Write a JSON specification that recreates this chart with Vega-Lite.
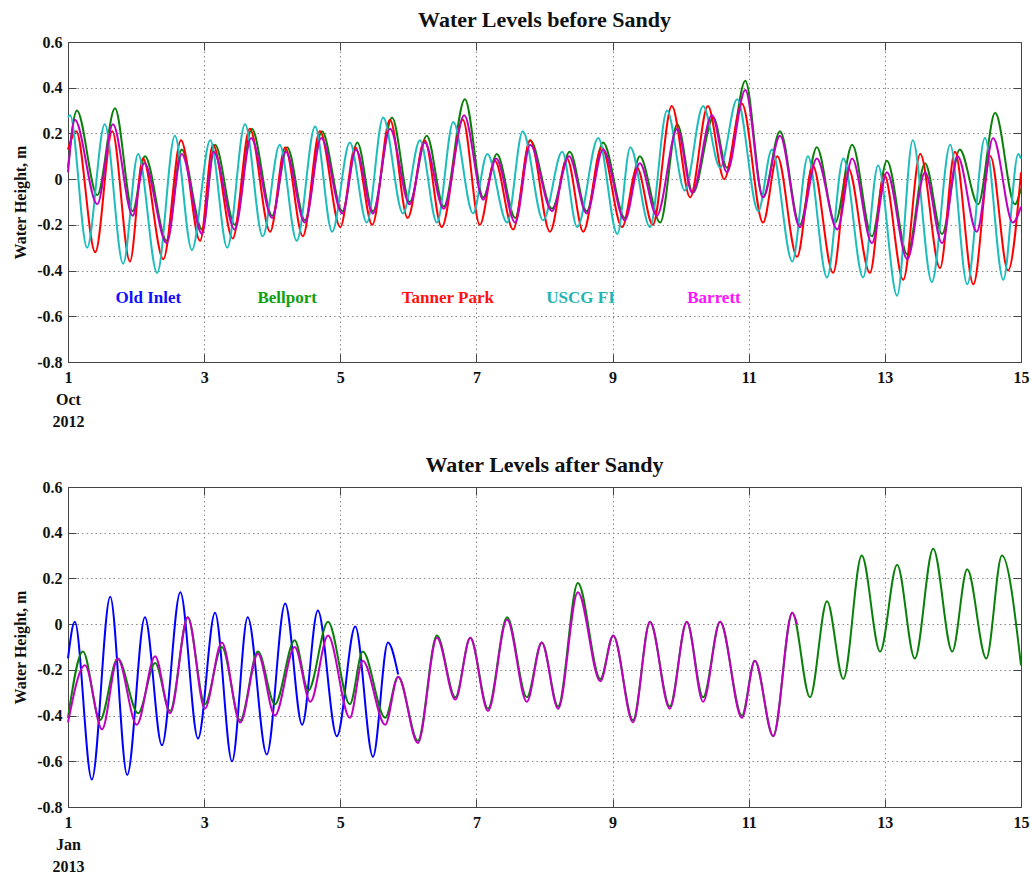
{
  "$schema": "https://vega.github.io/schema/vega-lite/v6.json",
  "background": "white",
  "padding": {"left": 12, "top": 8, "right": 5, "bottom": 5},
  "config": {
    "font": "Liberation Serif",
    "view": {"stroke": "#444", "strokeWidth": 1},
    "axis": {
      "labelFont": "Liberation Serif", "labelFontWeight": "bold", "labelFontSize": 16, "labelColor": "#111",
      "titleFont": "Liberation Serif", "titleFontWeight": "bold", "titleFontSize": 16, "titleColor": "#111",
      "domainColor": "#444", "tickColor": "#444", "gridColor": "#888", "gridDash": [1.5, 3], "gridOpacity": 1, "gridWidth": 1
    },
    "title": {"font": "Liberation Serif", "fontSize": 22, "fontWeight": "bold", "color": "#111", "offset": 2, "frame": "group", "anchor": "middle"}
  },
  "bounds": "flush",
  "spacing": 125,
  "datasets": {
    "labels": [
      {"name": "Old Inlet", "day": 2.18, "height": -0.52},
      {"name": "Bellport", "day": 4.22, "height": -0.52},
      {"name": "Tanner Park", "day": 6.58, "height": -0.52},
      {"name": "USCG FI", "day": 8.53, "height": -0.52},
      {"name": "Barrett", "day": 10.49, "height": -0.52}
    ],
    "before": [
      {"series": "Bellport", "day": 1.00, "height": 0.05},
      {"series": "Bellport", "day": 1.13, "height": 0.30},
      {"series": "Bellport", "day": 1.43, "height": -0.07},
      {"series": "Bellport", "day": 1.69, "height": 0.31},
      {"series": "Bellport", "day": 1.95, "height": -0.14},
      {"series": "Bellport", "day": 2.13, "height": 0.10},
      {"series": "Bellport", "day": 2.45, "height": -0.27},
      {"series": "Bellport", "day": 2.67, "height": 0.13},
      {"series": "Bellport", "day": 2.97, "height": -0.22},
      {"series": "Bellport", "day": 3.16, "height": 0.15},
      {"series": "Bellport", "day": 3.45, "height": -0.20},
      {"series": "Bellport", "day": 3.70, "height": 0.22},
      {"series": "Bellport", "day": 4.00, "height": -0.16},
      {"series": "Bellport", "day": 4.22, "height": 0.14},
      {"series": "Bellport", "day": 4.48, "height": -0.18},
      {"series": "Bellport", "day": 4.73, "height": 0.21},
      {"series": "Bellport", "day": 5.03, "height": -0.14},
      {"series": "Bellport", "day": 5.25, "height": 0.16},
      {"series": "Bellport", "day": 5.48, "height": -0.14},
      {"series": "Bellport", "day": 5.76, "height": 0.27},
      {"series": "Bellport", "day": 6.02, "height": -0.10},
      {"series": "Bellport", "day": 6.27, "height": 0.19},
      {"series": "Bellport", "day": 6.52, "height": -0.12},
      {"series": "Bellport", "day": 6.83, "height": 0.35},
      {"series": "Bellport", "day": 7.10, "height": -0.08},
      {"series": "Bellport", "day": 7.30, "height": 0.11},
      {"series": "Bellport", "day": 7.57, "height": -0.17},
      {"series": "Bellport", "day": 7.79, "height": 0.17},
      {"series": "Bellport", "day": 8.11, "height": -0.13},
      {"series": "Bellport", "day": 8.37, "height": 0.12},
      {"series": "Bellport", "day": 8.62, "height": -0.14},
      {"series": "Bellport", "day": 8.86, "height": 0.16},
      {"series": "Bellport", "day": 9.18, "height": -0.17},
      {"series": "Bellport", "day": 9.40, "height": 0.10},
      {"series": "Bellport", "day": 9.70, "height": -0.19},
      {"series": "Bellport", "day": 9.95, "height": 0.24},
      {"series": "Bellport", "day": 10.18, "height": -0.06},
      {"series": "Bellport", "day": 10.48, "height": 0.27},
      {"series": "Bellport", "day": 10.68, "height": 0.05},
      {"series": "Bellport", "day": 10.95, "height": 0.43},
      {"series": "Bellport", "day": 11.21, "height": -0.08},
      {"series": "Bellport", "day": 11.46, "height": 0.21},
      {"series": "Bellport", "day": 11.75, "height": -0.20},
      {"series": "Bellport", "day": 12.00, "height": 0.14},
      {"series": "Bellport", "day": 12.27, "height": -0.19},
      {"series": "Bellport", "day": 12.52, "height": 0.15},
      {"series": "Bellport", "day": 12.81, "height": -0.25},
      {"series": "Bellport", "day": 13.03, "height": 0.08},
      {"series": "Bellport", "day": 13.33, "height": -0.33},
      {"series": "Bellport", "day": 13.59, "height": 0.07},
      {"series": "Bellport", "day": 13.84, "height": -0.24},
      {"series": "Bellport", "day": 14.10, "height": 0.13},
      {"series": "Bellport", "day": 14.37, "height": -0.11},
      {"series": "Bellport", "day": 14.62, "height": 0.29},
      {"series": "Bellport", "day": 14.91, "height": -0.11},
      {"series": "Bellport", "day": 15.00, "height": -0.04},

      {"series": "Tanner Park", "day": 1.00, "height": 0.13},
      {"series": "Tanner Park", "day": 1.12, "height": 0.21},
      {"series": "Tanner Park", "day": 1.40, "height": -0.32},
      {"series": "Tanner Park", "day": 1.65, "height": 0.21},
      {"series": "Tanner Park", "day": 1.91, "height": -0.36},
      {"series": "Tanner Park", "day": 2.10, "height": 0.09},
      {"series": "Tanner Park", "day": 2.40, "height": -0.35},
      {"series": "Tanner Park", "day": 2.66, "height": 0.17},
      {"series": "Tanner Park", "day": 2.94, "height": -0.27},
      {"series": "Tanner Park", "day": 3.13, "height": 0.15},
      {"series": "Tanner Park", "day": 3.42, "height": -0.26},
      {"series": "Tanner Park", "day": 3.67, "height": 0.22},
      {"series": "Tanner Park", "day": 3.97, "height": -0.23},
      {"series": "Tanner Park", "day": 4.19, "height": 0.14},
      {"series": "Tanner Park", "day": 4.45, "height": -0.25},
      {"series": "Tanner Park", "day": 4.70, "height": 0.21},
      {"series": "Tanner Park", "day": 5.00, "height": -0.21},
      {"series": "Tanner Park", "day": 5.22, "height": 0.14},
      {"series": "Tanner Park", "day": 5.47, "height": -0.20},
      {"series": "Tanner Park", "day": 5.73, "height": 0.26},
      {"series": "Tanner Park", "day": 5.99, "height": -0.17},
      {"series": "Tanner Park", "day": 6.24, "height": 0.17},
      {"series": "Tanner Park", "day": 6.49, "height": -0.21},
      {"series": "Tanner Park", "day": 6.80, "height": 0.26},
      {"series": "Tanner Park", "day": 7.05, "height": -0.20},
      {"series": "Tanner Park", "day": 7.27, "height": 0.08},
      {"series": "Tanner Park", "day": 7.54, "height": -0.22},
      {"series": "Tanner Park", "day": 7.79, "height": 0.17},
      {"series": "Tanner Park", "day": 8.08, "height": -0.23},
      {"series": "Tanner Park", "day": 8.33, "height": 0.09},
      {"series": "Tanner Park", "day": 8.57, "height": -0.23},
      {"series": "Tanner Park", "day": 8.84, "height": 0.14},
      {"series": "Tanner Park", "day": 9.14, "height": -0.21},
      {"series": "Tanner Park", "day": 9.36, "height": 0.05},
      {"series": "Tanner Park", "day": 9.59, "height": -0.20},
      {"series": "Tanner Park", "day": 9.87, "height": 0.32},
      {"series": "Tanner Park", "day": 10.14, "height": -0.08},
      {"series": "Tanner Park", "day": 10.40, "height": 0.32},
      {"series": "Tanner Park", "day": 10.64, "height": 0.00},
      {"series": "Tanner Park", "day": 10.90, "height": 0.33},
      {"series": "Tanner Park", "day": 11.21, "height": -0.19},
      {"series": "Tanner Park", "day": 11.42, "height": 0.10},
      {"series": "Tanner Park", "day": 11.71, "height": -0.34},
      {"series": "Tanner Park", "day": 11.94, "height": 0.06},
      {"series": "Tanner Park", "day": 12.24, "height": -0.41},
      {"series": "Tanner Park", "day": 12.46, "height": 0.05},
      {"series": "Tanner Park", "day": 12.78, "height": -0.41},
      {"series": "Tanner Park", "day": 12.99, "height": 0.02},
      {"series": "Tanner Park", "day": 13.27, "height": -0.44},
      {"series": "Tanner Park", "day": 13.52, "height": 0.11},
      {"series": "Tanner Park", "day": 13.81, "height": -0.39},
      {"series": "Tanner Park", "day": 14.03, "height": 0.12},
      {"series": "Tanner Park", "day": 14.30, "height": -0.46},
      {"series": "Tanner Park", "day": 14.55, "height": 0.10},
      {"series": "Tanner Park", "day": 14.81, "height": -0.40},
      {"series": "Tanner Park", "day": 15.00, "height": 0.03},

      {"series": "USCG FI", "day": 1.00, "height": 0.27},
      {"series": "USCG FI", "day": 1.03, "height": 0.28},
      {"series": "USCG FI", "day": 1.28, "height": -0.30},
      {"series": "USCG FI", "day": 1.54, "height": 0.24},
      {"series": "USCG FI", "day": 1.81, "height": -0.37},
      {"series": "USCG FI", "day": 2.03, "height": 0.11},
      {"series": "USCG FI", "day": 2.31, "height": -0.41},
      {"series": "USCG FI", "day": 2.57, "height": 0.19},
      {"series": "USCG FI", "day": 2.82, "height": -0.31},
      {"series": "USCG FI", "day": 3.09, "height": 0.17},
      {"series": "USCG FI", "day": 3.34, "height": -0.30},
      {"series": "USCG FI", "day": 3.60, "height": 0.24},
      {"series": "USCG FI", "day": 3.86, "height": -0.25},
      {"series": "USCG FI", "day": 4.11, "height": 0.15},
      {"series": "USCG FI", "day": 4.36, "height": -0.27},
      {"series": "USCG FI", "day": 4.63, "height": 0.23},
      {"series": "USCG FI", "day": 4.88, "height": -0.23},
      {"series": "USCG FI", "day": 5.14, "height": 0.16},
      {"series": "USCG FI", "day": 5.39, "height": -0.19},
      {"series": "USCG FI", "day": 5.63, "height": 0.27},
      {"series": "USCG FI", "day": 5.92, "height": -0.15},
      {"series": "USCG FI", "day": 6.17, "height": 0.17},
      {"series": "USCG FI", "day": 6.42, "height": -0.19},
      {"series": "USCG FI", "day": 6.66, "height": 0.25},
      {"series": "USCG FI", "day": 6.95, "height": -0.15},
      {"series": "USCG FI", "day": 7.16, "height": 0.11},
      {"series": "USCG FI", "day": 7.45, "height": -0.19},
      {"series": "USCG FI", "day": 7.68, "height": 0.21},
      {"series": "USCG FI", "day": 7.98, "height": -0.18},
      {"series": "USCG FI", "day": 8.26, "height": 0.12},
      {"series": "USCG FI", "day": 8.48, "height": -0.21},
      {"series": "USCG FI", "day": 8.79, "height": 0.18},
      {"series": "USCG FI", "day": 9.07, "height": -0.24},
      {"series": "USCG FI", "day": 9.26, "height": 0.14},
      {"series": "USCG FI", "day": 9.55, "height": -0.21},
      {"series": "USCG FI", "day": 9.80, "height": 0.30},
      {"series": "USCG FI", "day": 10.06, "height": -0.05},
      {"series": "USCG FI", "day": 10.33, "height": 0.32},
      {"series": "USCG FI", "day": 10.58, "height": 0.05},
      {"series": "USCG FI", "day": 10.83, "height": 0.35},
      {"series": "USCG FI", "day": 11.14, "height": -0.14},
      {"series": "USCG FI", "day": 11.34, "height": 0.13},
      {"series": "USCG FI", "day": 11.64, "height": -0.36},
      {"series": "USCG FI", "day": 11.87, "height": 0.10},
      {"series": "USCG FI", "day": 12.15, "height": -0.43},
      {"series": "USCG FI", "day": 12.39, "height": 0.09},
      {"series": "USCG FI", "day": 12.68, "height": -0.43},
      {"series": "USCG FI", "day": 12.90, "height": 0.06},
      {"series": "USCG FI", "day": 13.18, "height": -0.51},
      {"series": "USCG FI", "day": 13.41, "height": 0.17},
      {"series": "USCG FI", "day": 13.69, "height": -0.45},
      {"series": "USCG FI", "day": 13.96, "height": 0.15},
      {"series": "USCG FI", "day": 14.21, "height": -0.46},
      {"series": "USCG FI", "day": 14.47, "height": 0.18},
      {"series": "USCG FI", "day": 14.74, "height": -0.44},
      {"series": "USCG FI", "day": 14.96, "height": 0.11},
      {"series": "USCG FI", "day": 15.00, "height": 0.09},

      {"series": "Barrett", "day": 1.00, "height": 0.03},
      {"series": "Barrett", "day": 1.10, "height": 0.26},
      {"series": "Barrett", "day": 1.43, "height": -0.11},
      {"series": "Barrett", "day": 1.66, "height": 0.24},
      {"series": "Barrett", "day": 1.95, "height": -0.16},
      {"series": "Barrett", "day": 2.12, "height": 0.07},
      {"series": "Barrett", "day": 2.45, "height": -0.28},
      {"series": "Barrett", "day": 2.67, "height": 0.11},
      {"series": "Barrett", "day": 2.97, "height": -0.24},
      {"series": "Barrett", "day": 3.14, "height": 0.12},
      {"series": "Barrett", "day": 3.45, "height": -0.22},
      {"series": "Barrett", "day": 3.69, "height": 0.18},
      {"series": "Barrett", "day": 4.00, "height": -0.17},
      {"series": "Barrett", "day": 4.20, "height": 0.12},
      {"series": "Barrett", "day": 4.48, "height": -0.19},
      {"series": "Barrett", "day": 4.72, "height": 0.18},
      {"series": "Barrett", "day": 5.03, "height": -0.15},
      {"series": "Barrett", "day": 5.23, "height": 0.13},
      {"series": "Barrett", "day": 5.48, "height": -0.15},
      {"series": "Barrett", "day": 5.73, "height": 0.22},
      {"series": "Barrett", "day": 6.02, "height": -0.11},
      {"series": "Barrett", "day": 6.24, "height": 0.16},
      {"series": "Barrett", "day": 6.52, "height": -0.13},
      {"series": "Barrett", "day": 6.82, "height": 0.28},
      {"series": "Barrett", "day": 7.10, "height": -0.09},
      {"series": "Barrett", "day": 7.29, "height": 0.09},
      {"series": "Barrett", "day": 7.57, "height": -0.19},
      {"series": "Barrett", "day": 7.79, "height": 0.15},
      {"series": "Barrett", "day": 8.11, "height": -0.14},
      {"series": "Barrett", "day": 8.36, "height": 0.10},
      {"series": "Barrett", "day": 8.62, "height": -0.15},
      {"series": "Barrett", "day": 8.86, "height": 0.13},
      {"series": "Barrett", "day": 9.18, "height": -0.18},
      {"series": "Barrett", "day": 9.40, "height": 0.07},
      {"series": "Barrett", "day": 9.65, "height": -0.16},
      {"series": "Barrett", "day": 9.95, "height": 0.22},
      {"series": "Barrett", "day": 10.17, "height": -0.06},
      {"series": "Barrett", "day": 10.46, "height": 0.28},
      {"series": "Barrett", "day": 10.68, "height": 0.03},
      {"series": "Barrett", "day": 10.95, "height": 0.39},
      {"series": "Barrett", "day": 11.21, "height": -0.08},
      {"series": "Barrett", "day": 11.46, "height": 0.19},
      {"series": "Barrett", "day": 11.75, "height": -0.21},
      {"series": "Barrett", "day": 12.00, "height": 0.09},
      {"series": "Barrett", "day": 12.30, "height": -0.22},
      {"series": "Barrett", "day": 12.52, "height": 0.09},
      {"series": "Barrett", "day": 12.81, "height": -0.28},
      {"series": "Barrett", "day": 13.03, "height": 0.03},
      {"series": "Barrett", "day": 13.33, "height": -0.35},
      {"series": "Barrett", "day": 13.59, "height": 0.03},
      {"series": "Barrett", "day": 13.84, "height": -0.28},
      {"series": "Barrett", "day": 14.07, "height": 0.10},
      {"series": "Barrett", "day": 14.35, "height": -0.23},
      {"series": "Barrett", "day": 14.59, "height": 0.18},
      {"series": "Barrett", "day": 14.88, "height": -0.19},
      {"series": "Barrett", "day": 15.00, "height": -0.12}
    ],
    "after": [
      {"series": "Old Inlet", "day": 1.00, "height": -0.15},
      {"series": "Old Inlet", "day": 1.10, "height": 0.01},
      {"series": "Old Inlet", "day": 1.35, "height": -0.68},
      {"series": "Old Inlet", "day": 1.62, "height": 0.12},
      {"series": "Old Inlet", "day": 1.87, "height": -0.66},
      {"series": "Old Inlet", "day": 2.13, "height": 0.03},
      {"series": "Old Inlet", "day": 2.38, "height": -0.53},
      {"series": "Old Inlet", "day": 2.65, "height": 0.14},
      {"series": "Old Inlet", "day": 2.91, "height": -0.50},
      {"series": "Old Inlet", "day": 3.16, "height": 0.05},
      {"series": "Old Inlet", "day": 3.41, "height": -0.60},
      {"series": "Old Inlet", "day": 3.64, "height": 0.03},
      {"series": "Old Inlet", "day": 3.92, "height": -0.57},
      {"series": "Old Inlet", "day": 4.19, "height": 0.09},
      {"series": "Old Inlet", "day": 4.44, "height": -0.44},
      {"series": "Old Inlet", "day": 4.67, "height": 0.06},
      {"series": "Old Inlet", "day": 4.95, "height": -0.49},
      {"series": "Old Inlet", "day": 5.22, "height": -0.01},
      {"series": "Old Inlet", "day": 5.48, "height": -0.58},
      {"series": "Old Inlet", "day": 5.70, "height": -0.08},
      {"series": "Old Inlet", "day": 5.85, "height": -0.22},

      {"series": "Bellport", "day": 1.00, "height": -0.41},
      {"series": "Bellport", "day": 1.22, "height": -0.12},
      {"series": "Bellport", "day": 1.47, "height": -0.42},
      {"series": "Bellport", "day": 1.73, "height": -0.15},
      {"series": "Bellport", "day": 2.03, "height": -0.39},
      {"series": "Bellport", "day": 2.28, "height": -0.17},
      {"series": "Bellport", "day": 2.50, "height": -0.38},
      {"series": "Bellport", "day": 2.76, "height": 0.03},
      {"series": "Bellport", "day": 3.01, "height": -0.35},
      {"series": "Bellport", "day": 3.26, "height": -0.10},
      {"series": "Bellport", "day": 3.53, "height": -0.42},
      {"series": "Bellport", "day": 3.79, "height": -0.12},
      {"series": "Bellport", "day": 4.04, "height": -0.35},
      {"series": "Bellport", "day": 4.33, "height": -0.07},
      {"series": "Bellport", "day": 4.53, "height": -0.29},
      {"series": "Bellport", "day": 4.82, "height": 0.01},
      {"series": "Bellport", "day": 5.14, "height": -0.35},
      {"series": "Bellport", "day": 5.33, "height": -0.12},
      {"series": "Bellport", "day": 5.66, "height": -0.41},
      {"series": "Bellport", "day": 5.85, "height": -0.23},
      {"series": "Bellport", "day": 6.14, "height": -0.51},
      {"series": "Bellport", "day": 6.42, "height": -0.05},
      {"series": "Bellport", "day": 6.69, "height": -0.32},
      {"series": "Bellport", "day": 6.91, "height": -0.06},
      {"series": "Bellport", "day": 7.17, "height": -0.37},
      {"series": "Bellport", "day": 7.45, "height": 0.03},
      {"series": "Bellport", "day": 7.74, "height": -0.32},
      {"series": "Bellport", "day": 7.96, "height": -0.08},
      {"series": "Bellport", "day": 8.20, "height": -0.36},
      {"series": "Bellport", "day": 8.49, "height": 0.18},
      {"series": "Bellport", "day": 8.82, "height": -0.24},
      {"series": "Bellport", "day": 9.01, "height": -0.05},
      {"series": "Bellport", "day": 9.30, "height": -0.42},
      {"series": "Bellport", "day": 9.55, "height": 0.01},
      {"series": "Bellport", "day": 9.84, "height": -0.36},
      {"series": "Bellport", "day": 10.09, "height": 0.01},
      {"series": "Bellport", "day": 10.33, "height": -0.32},
      {"series": "Bellport", "day": 10.58, "height": 0.01},
      {"series": "Bellport", "day": 10.90, "height": -0.40},
      {"series": "Bellport", "day": 11.09, "height": -0.16},
      {"series": "Bellport", "day": 11.36, "height": -0.49},
      {"series": "Bellport", "day": 11.64, "height": 0.05},
      {"series": "Bellport", "day": 11.90, "height": -0.32},
      {"series": "Bellport", "day": 12.15, "height": 0.10},
      {"series": "Bellport", "day": 12.39, "height": -0.24},
      {"series": "Bellport", "day": 12.66, "height": 0.30},
      {"series": "Bellport", "day": 12.93, "height": -0.12},
      {"series": "Bellport", "day": 13.18, "height": 0.26},
      {"series": "Bellport", "day": 13.44, "height": -0.15},
      {"series": "Bellport", "day": 13.71, "height": 0.33},
      {"series": "Bellport", "day": 13.99, "height": -0.12},
      {"series": "Bellport", "day": 14.21, "height": 0.24},
      {"series": "Bellport", "day": 14.49, "height": -0.15},
      {"series": "Bellport", "day": 14.72, "height": 0.30},
      {"series": "Bellport", "day": 15.00, "height": -0.18},

      {"series": "Barrett", "day": 1.00, "height": -0.43},
      {"series": "Barrett", "day": 1.25, "height": -0.18},
      {"series": "Barrett", "day": 1.50, "height": -0.46},
      {"series": "Barrett", "day": 1.73, "height": -0.15},
      {"series": "Barrett", "day": 2.01, "height": -0.44},
      {"series": "Barrett", "day": 2.28, "height": -0.14},
      {"series": "Barrett", "day": 2.50, "height": -0.39},
      {"series": "Barrett", "day": 2.76, "height": 0.03},
      {"series": "Barrett", "day": 3.01, "height": -0.37},
      {"series": "Barrett", "day": 3.26, "height": -0.08},
      {"series": "Barrett", "day": 3.53, "height": -0.43},
      {"series": "Barrett", "day": 3.79, "height": -0.13},
      {"series": "Barrett", "day": 4.04, "height": -0.40},
      {"series": "Barrett", "day": 4.33, "height": -0.10},
      {"series": "Barrett", "day": 4.56, "height": -0.34},
      {"series": "Barrett", "day": 4.82, "height": -0.05},
      {"series": "Barrett", "day": 5.14, "height": -0.41},
      {"series": "Barrett", "day": 5.33, "height": -0.16},
      {"series": "Barrett", "day": 5.66, "height": -0.44},
      {"series": "Barrett", "day": 5.85, "height": -0.23},
      {"series": "Barrett", "day": 6.14, "height": -0.52},
      {"series": "Barrett", "day": 6.42, "height": -0.06},
      {"series": "Barrett", "day": 6.69, "height": -0.33},
      {"series": "Barrett", "day": 6.91, "height": -0.06},
      {"series": "Barrett", "day": 7.17, "height": -0.38},
      {"series": "Barrett", "day": 7.45, "height": 0.02},
      {"series": "Barrett", "day": 7.74, "height": -0.34},
      {"series": "Barrett", "day": 7.96, "height": -0.08},
      {"series": "Barrett", "day": 8.20, "height": -0.37},
      {"series": "Barrett", "day": 8.49, "height": 0.14},
      {"series": "Barrett", "day": 8.82, "height": -0.25},
      {"series": "Barrett", "day": 9.01, "height": -0.05},
      {"series": "Barrett", "day": 9.30, "height": -0.43},
      {"series": "Barrett", "day": 9.55, "height": 0.01},
      {"series": "Barrett", "day": 9.84, "height": -0.37},
      {"series": "Barrett", "day": 10.09, "height": 0.01},
      {"series": "Barrett", "day": 10.33, "height": -0.34},
      {"series": "Barrett", "day": 10.58, "height": 0.01},
      {"series": "Barrett", "day": 10.90, "height": -0.41},
      {"series": "Barrett", "day": 11.09, "height": -0.16},
      {"series": "Barrett", "day": 11.36, "height": -0.49},
      {"series": "Barrett", "day": 11.64, "height": 0.05},
      {"series": "Barrett", "day": 11.71, "height": 0.00}
    ]
  },
  "vconcat": [
    {
      "title": {"text": "Water Levels before Sandy"},
      "width": 953,
      "height": 320,
      "resolve": {"axis": {"x": "independent", "y": "independent"}, "scale": {"color": "independent"}},
      "layer": [
        {
          "data": {"name": "before"},
          "mark": {"type": "line", "interpolate": "monotone", "strokeWidth": 2},
          "encoding": {
            "x": {"field": "day", "type": "quantitative", "scale": {"domain": [1, 15], "nice": false, "zero": false},
              "axis": {"orient": "bottom", "values": [1, 3, 5, 7, 9, 11, 13, 15], "title": null, "grid": true, "tickSize": -8, "labelPadding": 15, "labelFlush": false, "labelLineHeight": 22,
                "labelExpr": "datum.value == 1 ? ['1', 'Oct', '2012'] : datum.label"}},
            "y": {"field": "height", "type": "quantitative", "scale": {"domain": [-0.8, 0.6], "nice": false, "zero": false},
              "axis": {"orient": "left", "values": [-0.8, -0.6, -0.4, -0.2, 0, 0.2, 0.4, 0.6], "title": "Water Height, m", "grid": true, "tickSize": -8, "labelPadding": 14, "titlePadding": 8,
                "labelExpr": "datum.value == 0 ? '0' : replace(format(datum.value, '.1f'), '\u2212', '-')"}},
            "color": {"field": "series", "type": "nominal", "legend": null,
              "scale": {"domain": ["Old Inlet", "Bellport", "Tanner Park", "USCG FI", "Barrett"], "range": ["#0000ff", "#0a800a", "#ff0000", "#1fbcbc", "#c000c0"]}}
          }
        },
        {
          "data": {"name": "labels"},
          "mark": {"type": "text", "font": "Liberation Serif", "fontWeight": "bold", "fontSize": 17, "align": "center", "baseline": "middle"},
          "encoding": {
            "x": {"field": "day", "type": "quantitative", "scale": {"domain": [1, 15], "nice": false, "zero": false},
              "axis": {"orient": "top", "values": [1, 3, 5, 7, 9, 11, 13, 15], "labels": false, "grid": false, "tickSize": -8, "title": null}},
            "y": {"field": "height", "type": "quantitative", "scale": {"domain": [-0.8, 0.6], "nice": false, "zero": false},
              "axis": {"orient": "right", "values": [-0.8, -0.6, -0.4, -0.2, 0, 0.2, 0.4, 0.6], "labels": false, "grid": false, "tickSize": -8, "title": null}},
            "text": {"field": "name"},
            "color": {"field": "name", "type": "nominal", "legend": null,
              "scale": {"domain": ["Old Inlet", "Bellport", "Tanner Park", "USCG FI", "Barrett"], "range": ["#1010ff", "#10a010", "#ff1010", "#1fb4b4", "#ff10ff"]}}
          }
        }
      ]
    },
    {
      "title": {"text": "Water Levels after Sandy"},
      "width": 953,
      "height": 320,
      "resolve": {"axis": {"x": "independent", "y": "independent"}},
      "layer": [
        {
          "data": {"name": "after"},
          "transform": [{"filter": "datum.series == 'Old Inlet'"}],
          "mark": {"type": "line", "interpolate": "monotone", "strokeWidth": 2},
          "encoding": {
            "x": {"field": "day", "type": "quantitative", "scale": {"domain": [1, 15], "nice": false, "zero": false},
              "axis": {"orient": "bottom", "values": [1, 3, 5, 7, 9, 11, 13, 15], "title": null, "grid": true, "tickSize": -8, "labelPadding": 15, "labelFlush": false, "labelLineHeight": 22,
                "labelExpr": "datum.value == 1 ? ['1', 'Jan', '2013'] : datum.label"}},
            "y": {"field": "height", "type": "quantitative", "scale": {"domain": [-0.8, 0.6], "nice": false, "zero": false},
              "axis": {"orient": "left", "values": [-0.8, -0.6, -0.4, -0.2, 0, 0.2, 0.4, 0.6], "title": "Water Height, m", "grid": true, "tickSize": -8, "labelPadding": 14, "titlePadding": 8,
                "labelExpr": "datum.value == 0 ? '0' : replace(format(datum.value, '.1f'), '\u2212', '-')"}},
            "color": {"field": "series", "type": "nominal", "legend": null,
              "scale": {"domain": ["Old Inlet", "Bellport", "Tanner Park", "USCG FI", "Barrett"], "range": ["#0000ff", "#0a800a", "#ff0000", "#1fbcbc", "#c000c0"]}}
          }
        },
        {
          "data": {"name": "after"},
          "transform": [{"filter": "datum.series != 'Old Inlet'"}],
          "mark": {"type": "line", "interpolate": "monotone", "strokeWidth": 2},
          "encoding": {
            "x": {"field": "day", "type": "quantitative", "scale": {"domain": [1, 15], "nice": false, "zero": false},
              "axis": {"orient": "top", "values": [1, 3, 5, 7, 9, 11, 13, 15], "labels": false, "grid": false, "tickSize": -8, "title": null}},
            "y": {"field": "height", "type": "quantitative", "scale": {"domain": [-0.8, 0.6], "nice": false, "zero": false},
              "axis": {"orient": "right", "values": [-0.8, -0.6, -0.4, -0.2, 0, 0.2, 0.4, 0.6], "labels": false, "grid": false, "tickSize": -8, "title": null}},
            "color": {"field": "series", "type": "nominal", "legend": null,
              "scale": {"domain": ["Old Inlet", "Bellport", "Tanner Park", "USCG FI", "Barrett"], "range": ["#0000ff", "#0a800a", "#ff0000", "#1fbcbc", "#c000c0"]}}
          }
        }
      ]
    }
  ]
}
